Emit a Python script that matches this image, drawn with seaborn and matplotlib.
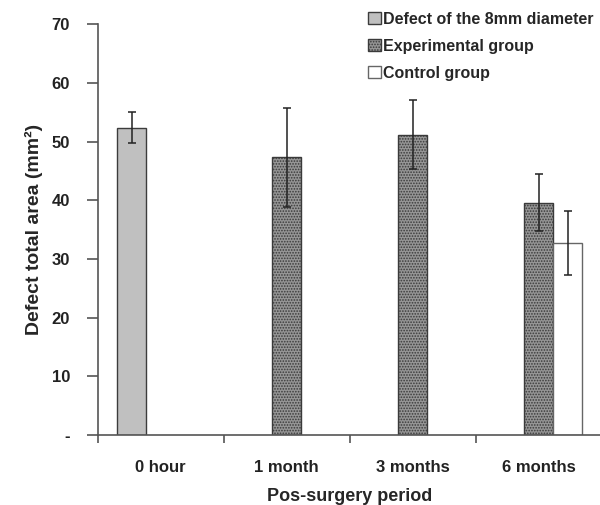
import pandas as pd
import matplotlib
matplotlib.use('Agg')
import matplotlib.pyplot as plt
import seaborn as sns

periods = ['0 hour', '1 month', '3 months', '6 months']
groups = ['Defect of the 8mm diameter', 'Experimental group', 'Control group']

# (period, group, mean, sd)
bar_period = ['0 hour', '1 month', '3 months', '6 months', '6 months']
bar_group = ['Defect of the 8mm diameter', 'Experimental group', 'Experimental group',
             'Experimental group', 'Control group']
bar_mean = [52.4, 47.3, 51.2, 39.6, 32.7]
bar_sd = [2.7, 8.4, 5.9, 4.9, 5.5]

yticks = [0, 10, 20, 30, 40, 50, 60, 70]
yticklabels = ['-', '10', '20', '30', '40', '50', '60', '70']

df = pd.DataFrame({'period': bar_period, 'group': bar_group,
                   'area': bar_mean, 'sd': bar_sd})

sns.set_style('ticks')
plt.rcParams['font.family'] = ['Liberation Sans', 'DejaVu Sans']
plt.rcParams['font.weight'] = 'bold'
plt.rcParams['hatch.linewidth'] = 0.8

fig = plt.figure(figsize=(6, 5.05), dpi=100)
ax = fig.add_axes([0.163, 0.1386, 0.84, 0.8134])

sns.barplot(data=df, x='period', y='area', hue='group', order=periods,
            hue_order=groups, width=0.69, errorbar=None, legend=False,
            palette=['#c0c0c0', '#969696', '#ffffff'], ax=ax)

styles = {
    'Defect of the 8mm diameter': dict(edgecolor='#3c3c3c', hatch=None),
    'Experimental group': dict(edgecolor='#3a3a3a', hatch='......'),
    'Control group': dict(edgecolor='#666666', hatch=None),
}

for lab, cont in zip(groups, ax.containers):
    cont.set_label(lab)
    st = styles[lab]
    sub = df[df['group'] == lab].set_index('period').reindex(periods).dropna()
    for bar, (_, row) in zip(cont.patches, sub.iterrows()):
        bar.set_edgecolor(st['edgecolor'])
        bar.set_linewidth(1.0)
        if st['hatch']:
            bar.set_hatch(st['hatch'])
        xc = bar.get_x() + bar.get_width() / 2
        ax.errorbar(xc, row['area'], yerr=row['sd'], color='#222222',
                    elinewidth=1.1, capsize=3, capthick=1.1, zorder=5)

ax.set_ylim(0, 70)
ax.set_xlim(-0.5, 3.5)
ax.set_yticks(yticks)
ax.set_yticklabels(yticklabels, fontsize=12, fontweight='bold')
ax.set_xticks(range(len(periods)))
ax.set_xticklabels(periods, fontsize=12, fontweight='bold')
ax.set_xticks([-0.5, 0.5, 1.5, 2.5], minor=True)
ax.tick_params(axis='x', which='major', length=0, pad=18)
ax.tick_params(axis='x', which='minor', length=6, width=1.2, color='#555555', direction='out')
ax.tick_params(axis='y', length=8, width=1.2, color='#555555', direction='out', pad=12)
ax.tick_params(axis='both', labelcolor='#222222')

ax.set_ylabel('Defect total area (mm²)', fontsize=14, fontweight='bold', labelpad=6)
ax.set_xlabel('Pos-surgery period', fontsize=13, fontweight='bold', labelpad=9)

for s in ['top', 'right']:
    ax.spines[s].set_visible(False)
for s in ['left', 'bottom']:
    ax.spines[s].set_color('#555555')
    ax.spines[s].set_linewidth(1.2)

ax.legend(loc='upper right', bbox_to_anchor=(1.0, 1.05), frameon=False,
          prop={'size': 11.5, 'weight': 'bold'}, handlelength=0.8, handleheight=0.8,
          handletextpad=0.15, labelspacing=0.75, borderaxespad=0.1)

fig.savefig('out.png', dpi=100)
